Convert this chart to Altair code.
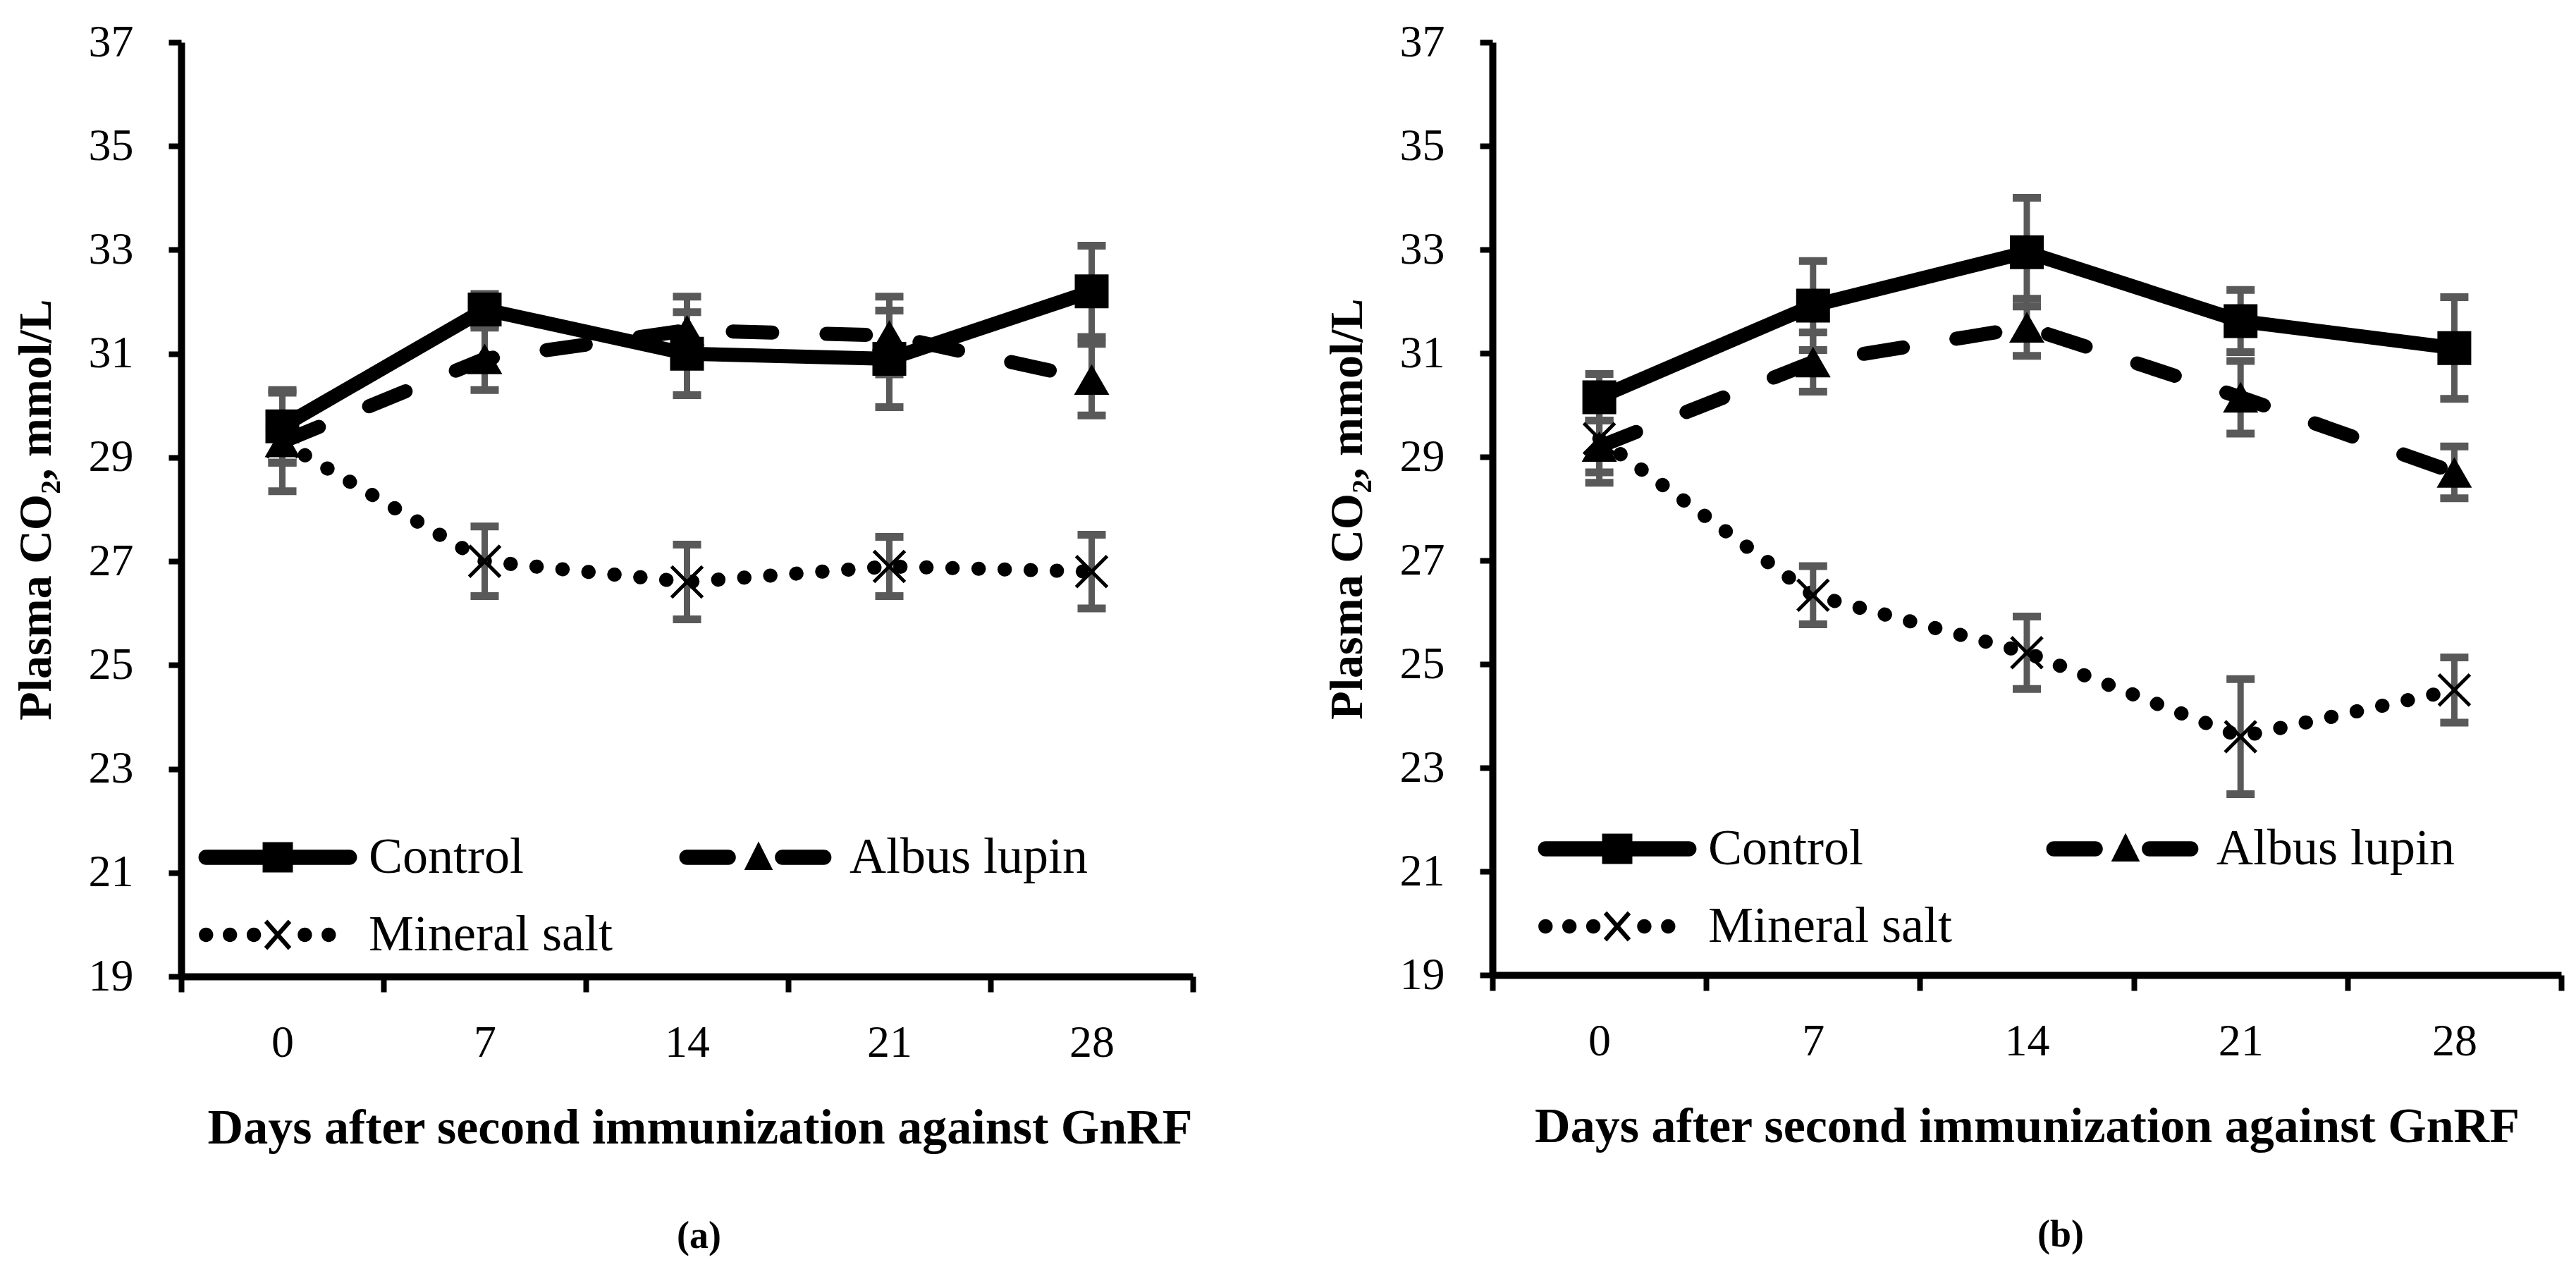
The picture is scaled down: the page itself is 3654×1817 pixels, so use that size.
import altair as alt
import pandas as pd

# ---------------- data ----------------
days = [0, 7, 14, 21, 28]
series = ["Control", "Albus lupin", "Mineral salt"]

a_control = [29.6, 31.85, 31.0, 30.9, 32.2]
a_control_err = [0.7, 0.3, 0.8, 0.93, 0.88]
a_albus = [29.3, 30.9, 31.45, 31.35, 30.5]
a_albus_err = [0.4, 0.6, 0.65, 0.75, 0.69]
a_mineral = [29.3, 27.0, 26.6, 26.9, 26.8]
a_mineral_err = [0.95, 0.67, 0.72, 0.57, 0.71]

b_control = [30.15, 31.92, 32.95, 31.62, 31.1]
b_control_err = [0.45, 0.86, 1.05, 0.6, 0.98]
b_albus = [29.2, 30.83, 31.5, 30.15, 28.7]
b_albus_err = [0.5, 0.57, 0.55, 0.7, 0.5]
b_mineral = [29.35, 26.33, 25.22, 23.6, 24.5]
b_mineral_err = [0.85, 0.56, 0.7, 1.11, 0.63]

y_ticks = [19, 21, 23, 25, 27, 29, 31, 33, 35, 37]
y_title = "Plasma CO\u2082, mmol/L"
x_title = "Days after second immunization against GnRF"

FONT = "Liberation Serif"
ERR = "#595959"


# ---------------- legend symbol paths (unit box -1..1) ----------------
def pill(x1, x2, r):
    return (f"M{x1},{-r}H{x2}A{r},{r} 0 0 1 {x2},{r}"
            f"H{x1}A{r},{r} 0 0 1 {x1},{-r}Z")


def dot(cx, r):
    return (f"M{cx - r},0A{r},{r} 0 1 0 {cx + r},0"
            f"A{r},{r} 0 1 0 {cx - r},0Z")


LW = 0.095
path_control = pill(-0.9, 0.9, LW) + "M-0.19,-0.19H0.19V0.19H-0.19Z"
path_albus = (pill(-0.9, -0.38, LW) + "M0,-0.2L0.18,0.16H-0.18Z"
              + pill(0.3, 0.82, LW))
path_mineral = ("".join(dot(c, 0.09) for c in [-0.9, -0.6, -0.3, 0.34, 0.64])
                + "M-0.17,-0.15L-0.13,-0.19L0.17,0.15L0.13,0.19Z"
                + "M0.13,-0.19L0.17,-0.15L-0.13,0.19L-0.17,0.15Z")
legend_paths = [path_control, path_albus, path_mineral]


def make_df(vals, errs):
    rows = []
    for s, v, e in zip(series, vals, errs):
        for d, vv, ee in zip(days, v, e):
            rows.append({"day": d, "series": s, "value": vv,
                         "lo": round(vv - ee, 3), "hi": round(vv + ee, 3)})
    return pd.DataFrame(rows)


def panel(vals, errs, width, height, tag, leg_x, leg_y, col_pad,
          title_dx, tag_dx):
    df = make_df(vals, errs)
    xaxis = alt.Axis(title=x_title, labelAngle=0, tickBand="extent",
                     tickSize=22, tickWidth=8, tickColor="black",
                     domainColor="black", domainWidth=10,
                     labelFont=FONT, labelFontSize=64, labelColor="black",
                     labelPadding=40, titleFont=FONT, titleFontSize=70,
                     titleFontWeight="bold", titleColor="black",
                     titlePadding=55, titleX=width / 2 + title_dx,
                     grid=False)
    yaxis = alt.Axis(title=y_title, values=y_ticks, tickSize=18, tickWidth=8,
                     tickColor="black", domainColor="black", domainWidth=10,
                     labelFont=FONT, labelFontSize=64, labelColor="black",
                     labelPadding=50, titleFont=FONT, titleFontSize=66,
                     titleFontWeight="bold", titleColor="black",
                     titlePadding=40, grid=False)
    xs = alt.Scale(type="band", domain=days, paddingInner=0, paddingOuter=0)
    ys = alt.Scale(domain=[19, 37], nice=False, zero=False)

    X = alt.X("day:O", scale=xs, axis=xaxis, title=x_title)

    def Y(f):
        return alt.Y(f"{f}:Q", scale=ys, axis=yaxis, title=y_title)

    base = alt.Chart(df)
    layers = []
    styles = {
        "Control": dict(),
        "Albus lupin": dict(strokeDash=[56, 77], strokeCap="round"),
        "Mineral salt": dict(strokeDash=[0.5, 36.5], strokeCap="round"),
    }
    for s in series:
        layers.append(
            base.transform_filter(alt.datum.series == s)
            .mark_line(color="black", strokeWidth=20, **styles[s])
            .encode(x=X, y=Y("value"))
        )
    # error bars
    layers.append(base.mark_rule(color=ERR, strokeWidth=9)
                  .encode(x=X, y=Y("lo"), y2="hi:Q"))
    layers.append(base.mark_tick(color=ERR, size=40, thickness=11,
                                 orient="horizontal", opacity=1)
                  .encode(x=X, y=Y("lo")))
    layers.append(base.mark_tick(color=ERR, size=40, thickness=11,
                                 orient="horizontal", opacity=1)
                  .encode(x=X, y=Y("hi")))
    # markers
    layers.append(base.transform_filter(alt.datum.series == "Control")
                  .mark_point(shape="square", filled=True, color="black",
                              size=2304, opacity=1)
                  .encode(x=X, y=Y("value")))
    layers.append(base.transform_filter(alt.datum.series == "Albus lupin")
                  .mark_point(shape="triangle-up", filled=True, color="black",
                              size=2500, opacity=1)
                  .encode(x=X, y=Y("value")))
    layers.append(base.transform_filter(alt.datum.series == "Mineral salt")
                  .mark_point(shape="M-1,-1L1,1M-1,1L1,-1", filled=False,
                              color="black", strokeWidth=5, size=1936,
                              opacity=1)
                  .encode(x=X, y=Y("value")))
    # legend (from the shape scale; no data drawn)
    legend = alt.Legend(orient="none", legendX=leg_x, legendY=leg_y,
                        direction="horizontal", columns=2, title=None,
                        symbolSize=226 * 226,
                        symbolFillColor="black", symbolStrokeColor="black",
                        symbolStrokeWidth=0, symbolOpacity=1,
                        labelFont=FONT, labelFontSize=72, labelColor="black",
                        labelLimit=2000, labelOffset=16, clipHeight=100,
                        rowPadding=10, columnPadding=col_pad, padding=0,
                        symbolOffset=0)
    layers.append(base.transform_filter("false")
                  .mark_point(filled=True, color="black", opacity=1)
                  .encode(shape=alt.Shape("series:N",
                                          scale=alt.Scale(domain=series,
                                                          range=legend_paths),
                                          legend=legend)))
    return alt.layer(*layers).properties(
        width=width, height=height,
        title=alt.TitleParams(tag, orient="bottom", font=FONT, fontSize=54,
                              fontWeight="bold", color="black", offset=92,
                              dx=tag_dx),
    )


left = panel([a_control, a_albus, a_mineral],
             [a_control_err, a_albus_err, a_mineral_err],
             1435, 1325, "(a)", 24, 1106, 94, 18, 17)
right = panel([b_control, b_albus, b_mineral],
              [b_control_err, b_albus_err, b_mineral_err],
              1516, 1323, "(b)", 64, 1094, 133, 0, 48)

chart = (alt.hconcat(left, right, spacing=182)
         .resolve_scale(shape="independent")
         .resolve_legend(shape="independent")
         .properties(padding={"left": 10, "top": 20, "right": 5, "bottom": 5},
                     background="white")
         .configure_view(strokeWidth=0))

chart.save("out.html", embed_options={"renderer": "svg", "actions": False})
